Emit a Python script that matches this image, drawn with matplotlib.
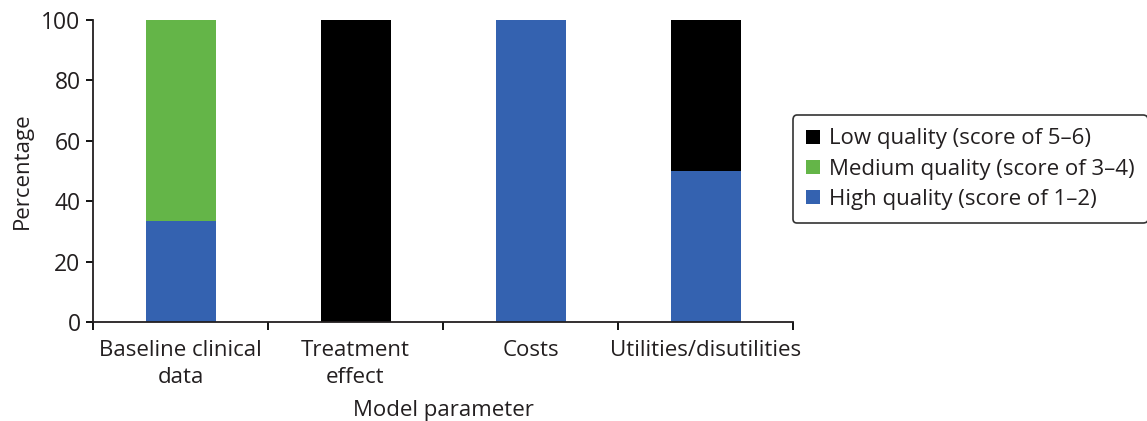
import matplotlib.pyplot as plt
import numpy as np

plt.rcParams["font.family"] = ["Open Sans", "DejaVu Sans"]

categories = ["Baseline clinical\ndata", "Treatment\neffect", "Costs", "Utilities/disutilities"]
high = [33.3, 0, 100, 50]
medium = [66.7, 0, 0, 0]
low = [0, 100, 0, 50]

BLUE = "#3462b0"
GREEN = "#64b548"
BLACK = "#000000"
TEXT = "#231f20"
FS = 16

fig = plt.figure(figsize=(11.47, 4.21), dpi=100)
ax = fig.add_axes([0.0811, 0.2352, 0.6103, 0.7173])

x = np.arange(len(categories))
w = 0.4
b_high = ax.bar(x, high, w, color=BLUE, label="High quality (score of 1\u20132)")
b_med = ax.bar(x, medium, w, bottom=high, color=GREEN, label="Medium quality (score of 3\u20134)")
b_low = ax.bar(x, low, w, bottom=np.array(high) + np.array(medium), color=BLACK,
               label="Low quality (score of 5\u20136)")

ax.set_xlim(-0.5, len(categories) - 0.5)
ax.set_ylim(0, 100)
ax.set_yticks(range(0, 101, 20))
ax.set_xticks(x)
ax.set_xticklabels(categories, fontsize=FS, color=TEXT, linespacing=1.35)
ax.set_xticks(np.arange(-0.5, len(categories), 1), minor=True)
ax.tick_params(axis="x", which="major", length=0, pad=13)
ax.tick_params(axis="x", which="minor", length=6, width=1.3, direction="out")
ax.tick_params(axis="y", length=5, width=1.3, labelsize=FS + 0.5, labelcolor=TEXT, pad=4)

for side in ("top", "right"):
    ax.spines[side].set_visible(False)
for side in ("left", "bottom"):
    ax.spines[side].set_linewidth(1.3)
    ax.spines[side].set_color(TEXT)

ax.set_ylabel("Percentage", fontsize=FS, color=TEXT, labelpad=6)
ax.set_xlabel("Model parameter", fontsize=FS, color=TEXT, labelpad=9)

leg = fig.legend(handles=[b_low, b_med, b_high], loc="center left",
                 bbox_to_anchor=(0.6914, 0.598), fontsize=FS, frameon=True,
                 fancybox=True, edgecolor="black", handlelength=0.6, handleheight=0.6,
                 handletextpad=0.4, labelspacing=0.42, borderpad=0.6, borderaxespad=0.0)
leg.get_frame().set_linewidth(1.2)
for t in leg.get_texts():
    t.set_color(TEXT)

fig.savefig("out.png", dpi=100)
